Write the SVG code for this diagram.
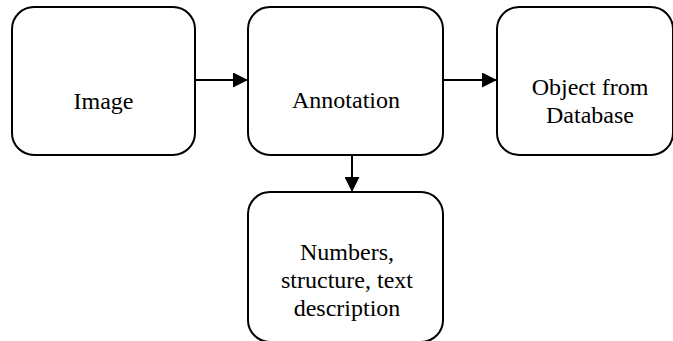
<svg xmlns="http://www.w3.org/2000/svg" width="673" height="341" viewBox="0 0 673 341">
<style>
.box{fill:#fff;stroke:#000;stroke-width:2}
.lbl{font-family:"Liberation Serif","Times New Roman",serif;font-size:24px;fill:#000;text-anchor:middle}
.con{stroke:#000;stroke-width:2;fill:none}
</style>
<defs>
<marker id="ah" markerWidth="15" markerHeight="15" refX="15" refY="7.5" orient="auto" markerUnits="userSpaceOnUse">
<path d="M0,0 L15,7.5 L0,15 Z" fill="#000"/>
</marker>
</defs>
<rect width="673" height="341" fill="#fff"/>
<g id="connectors">
<line class="con" x1="195" y1="80" x2="248" y2="80" marker-end="url(#ah)"/>
<line class="con" x1="443" y1="80" x2="497" y2="80" marker-end="url(#ah)"/>
<line class="con" x1="352" y1="155" x2="352" y2="192" marker-end="url(#ah)"/>
</g>
<g id="image">
<rect class="box" x="12" y="7" width="183" height="148" rx="22"/>
<text class="lbl" x="103.5" y="109">Image</text>
</g>
<g id="annotation">
<rect class="box" x="248" y="7" width="195" height="148" rx="22"/>
<text class="lbl" x="346" y="108">Annotation</text>
</g>
<g id="object">
<rect class="box" x="497" y="7" width="176" height="148" rx="22"/>
<text class="lbl" x="590" y="95">Object from</text>
<text class="lbl" x="590" y="123">Database</text>
</g>
<g id="numbers">
<rect class="box" x="248" y="192" width="195" height="150" rx="22"/>
<text class="lbl" x="347" y="260">Numbers,</text>
<text class="lbl" x="347" y="288">structure, text</text>
<text class="lbl" x="347" y="316">description</text>
</g>
</svg>
